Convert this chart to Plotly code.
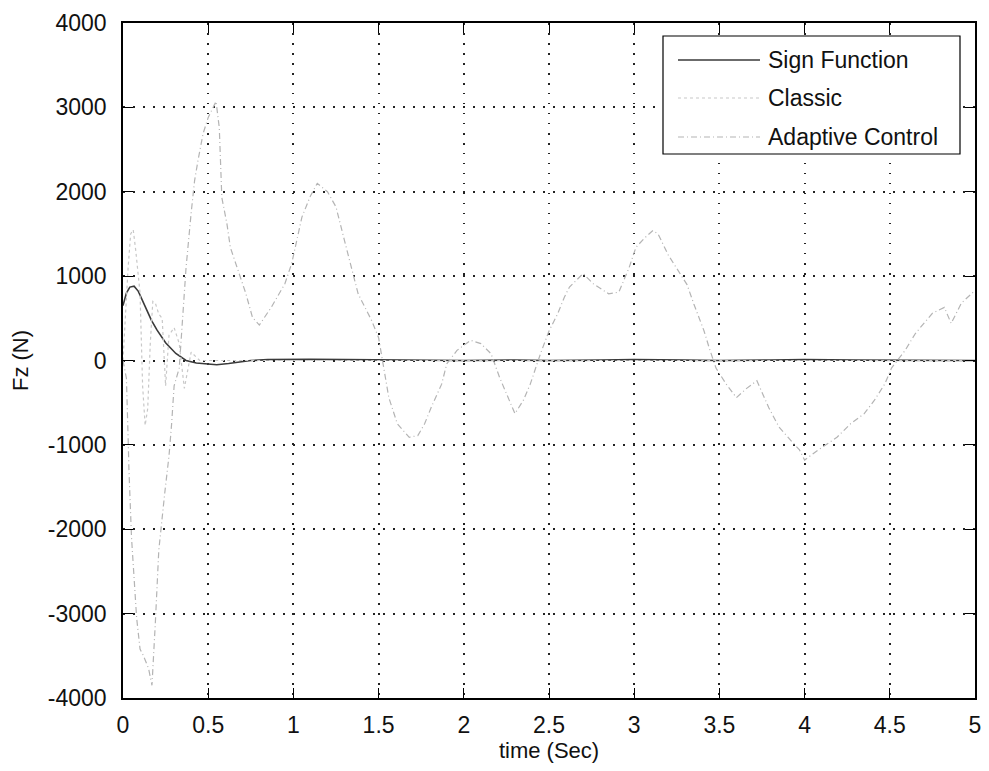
import plotly.graph_objects as go

# ---------------- data ----------------
sign_t = [0, 0.02, 0.04, 0.065, 0.09, 0.12, 0.167, 0.20, 0.25, 0.31, 0.37, 0.43, 0.49,
          0.55, 0.62, 0.68, 0.75, 0.85, 0.95, 1.1, 1.3, 1.5, 1.8, 2.0, 2.3, 2.5, 2.8,
          3.0, 3.3, 3.5, 3.8, 4.0, 4.3, 4.5, 4.8, 5.0]
sign_v = [650, 800, 870, 880, 820, 690, 475, 360, 210, 83, 0, -30, -40,
          -50, -35, -15, 0, 10, 15, 15, 10, 5, 0, 0, 5, 0, 5,
          10, 5, 0, 5, 10, 5, 5, 0, 0]

classic_t = [0, 0.015, 0.03, 0.045, 0.06, 0.075, 0.09, 0.10, 0.115, 0.13, 0.145, 0.16,
             0.175, 0.19, 0.21, 0.23, 0.25, 0.27, 0.30, 0.33, 0.36, 0.40, 0.45, 0.5,
             1.0, 2.0, 3.0, 4.0, 5.0]
classic_v = [0, 600, 1100, 1500, 1550, 1300, 1000, 800, -300, -770, -570, 200,
             700, 680, 550, 500, -300, 300, 390, 200, -330, 100, 0, 0,
             0, 0, 0, 0, 0]

adapt_t = [0, 0.02, 0.03, 0.035, 0.05, 0.065, 0.08, 0.10, 0.12, 0.15, 0.17, 0.19,
           0.21, 0.245, 0.27, 0.285, 0.30, 0.33, 0.345, 0.37, 0.40, 0.42, 0.44, 0.47,
           0.50, 0.546, 0.565, 0.58, 0.61, 0.63, 0.67, 0.72, 0.76, 0.80, 0.87, 0.95,
           0.99, 1.05, 1.10, 1.14, 1.20, 1.25, 1.30, 1.38, 1.46, 1.50, 1.56, 1.61,
           1.68, 1.73, 1.77, 1.81, 1.87, 1.90, 1.96, 2.04, 2.10, 2.16, 2.21, 2.26,
           2.30, 2.35, 2.39, 2.45, 2.50, 2.55, 2.59, 2.62, 2.70, 2.76, 2.85, 2.91,
           2.97, 3.01, 3.06, 3.11, 3.14, 3.20, 3.27, 3.31, 3.35, 3.41, 3.44, 3.48,
           3.54, 3.60, 3.66, 3.72, 3.79, 3.85, 3.92, 3.97, 4.00, 4.08, 4.19, 4.27,
           4.35, 4.41, 4.47, 4.51, 4.59, 4.65, 4.75, 4.82, 4.86, 4.92, 5.0]
adapt_v = [0, -210, -910, -1300, -2100, -2600, -3050, -3420, -3500, -3650, -3850, -3100,
           -2250, -1570, -1130, -760, -300, -90, 320, 1100, 1750, 2130, 2370, 2690,
           2880, 3070, 2760, 1930, 1620, 1340, 1100, 800, 510, 420, 630, 910,
           1150, 1700, 1950, 2100, 2000, 1820, 1420, 790, 470, 270, -440, -750,
           -910, -890, -750, -550, -280, -40, 120, 240, 200, 80, -200, -440,
           -630, -470, -280, 80, 350, 550, 750, 870, 1030, 910, 790, 810,
           1100, 1340, 1450, 1540, 1500, 1250, 1030, 900, 670, 350, 150, -90,
           -280, -440, -330, -240, -560, -790, -950, -1060, -1180, -1060, -910, -750,
           -630, -470, -280, -90, 120, 320, 560, 630, 440, 680, 830]

x_ticks = [0, 0.5, 1, 1.5, 2, 2.5, 3, 3.5, 4, 4.5, 5]
x_tick_labels = ['0', '0.5', '1', '1.5', '2', '2.5', '3', '3.5', '4', '4.5', '5']
y_ticks = [-4000, -3000, -2000, -1000, 0, 1000, 2000, 3000, 4000]
y_tick_labels = ['-4000', '-3000', '-2000', '-1000', '0', '1000', '2000', '3000', '4000']

series_names = ['Sign Function', 'Classic', 'Adaptive Control']

# ---------------- styles ----------------
FONT = 'Liberation Sans, Arial, Helvetica, sans-serif'
styles = [
    dict(color='#3a3a3a', width=1.6, dash='solid'),
    dict(color='#c8c8c8', width=1.2, dash='dot'),
    dict(color='#b4b4b4', width=1.2, dash='6px,3px,1px,3px'),
]

fig = go.Figure()
for name, t, v, st in zip(series_names, [sign_t, classic_t, adapt_t],
                          [sign_v, classic_v, adapt_v], styles):
    fig.add_trace(go.Scatter(x=t, y=v, mode='lines', name=name, line=st,
                             showlegend=False))

axis_common = dict(
    showline=True, linecolor='black', linewidth=1.5, mirror='ticks',
    ticks='inside', ticklen=10, tickwidth=1.3, tickcolor='black',
    showgrid=True, gridcolor='#222222', gridwidth=1.5, griddash='1.5px,8.5px',
    zeroline=False, tickfont=dict(family=FONT, size=23, color='#111111'),
    ticklabeloverflow='allow',
)

fig.update_xaxes(range=[0, 5], tickvals=x_ticks, ticktext=x_tick_labels,
                 ticklabelstandoff=6,
                 title=dict(text='time (Sec)', font=dict(family=FONT, size=22, color='#111111'),
                            standoff=6),
                 **axis_common)
fig.update_yaxes(range=[-4000, 4000], tickvals=y_ticks, ticktext=y_tick_labels,
                 ticklabelstandoff=10,
                 title=dict(text='Fz (N)', font=dict(family=FONT, size=22, color='#111111'),
                            standoff=20),
                 **axis_common)

# ---------------- layout geometry (picture pixels) ----------------
OFF = 8                          # page body margin shifts the figure
W, H = 989 - 2 * OFF, 771 - 2 * OFF   # figure size (no scrollbars)
L = 123; R = 975; T = 23; B = 698     # plot area in picture pixels
def px(x): return (x - L) / (R - L)
def py(y): return (B - y) / (B - T)

# ---------------- legend (MATLAB-style box) ----------------
shapes = [dict(type='rect', xref='paper', yref='paper', x0=px(663), x1=px(960),
               y0=py(154), y1=py(36), fillcolor='white',
               line=dict(color='black', width=1.2), layer='above')]
annotations = []
rows = [60, 98, 137]
for name, st, ry in zip(series_names, styles, rows):
    shapes.append(dict(type='line', xref='paper', yref='paper', x0=px(678), x1=px(760),
                       y0=py(ry), y1=py(ry), layer='above',
                       line=dict(color=st['color'], width=st['width'], dash=st['dash'])))
    annotations.append(dict(xref='paper', yref='paper', x=px(766), y=py(ry),
                            xanchor='left', yanchor='middle', text=name, showarrow=False,
                            font=dict(family=FONT, size=23, color='#111111')))

fig.update_layout(
    width=W, height=H,
    margin=dict(l=L - OFF, r=W - (R - OFF), t=T - OFF, b=H - (B - OFF), autoexpand=False),
    paper_bgcolor='white', plot_bgcolor='white',
    shapes=shapes, annotations=annotations,
    font=dict(family=FONT),
)

fig.write_html('out.html')
